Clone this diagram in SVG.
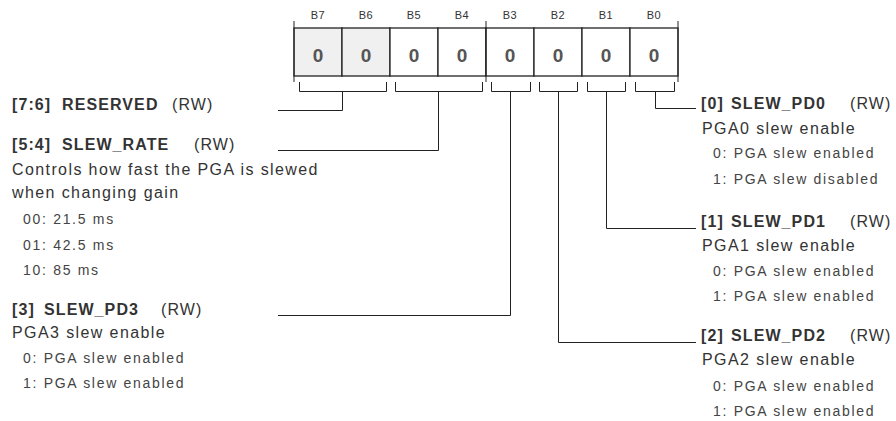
<svg xmlns="http://www.w3.org/2000/svg" width="896" height="421" viewBox="0 0 896 421">
<style>
  text { font-family: "Liberation Sans", Arial, sans-serif; fill: #333; }
  .bl { font-size: 11px; letter-spacing: 0.6px; text-anchor: middle; fill: #333; }
  .val { font-size: 19px; font-weight: bold; text-anchor: middle; fill: #555; }
  .t { font-size: 16px; letter-spacing: 1.1px; }
  .b { font-weight: bold; }
  .d { font-size: 16px; letter-spacing: 1.4px; }
  .s { font-size: 14px; letter-spacing: 1.7px; fill: #444; }
  .ln { fill: none; stroke: #222; stroke-width: 1; }
  .cell { stroke: #222; stroke-width: 1.3; }
</style>
<g id="register">
  <rect class="cell" x="294" y="28" width="48" height="48" fill="#f0f0f0"/>
  <rect class="cell" x="342" y="28" width="48" height="48" fill="#f0f0f0"/>
  <rect class="cell" x="390" y="28" width="48" height="48" fill="#fff"/>
  <rect class="cell" x="438" y="28" width="48" height="48" fill="#fff"/>
  <rect class="cell" x="486" y="28" width="48" height="48" fill="#fff"/>
  <rect class="cell" x="534" y="28" width="48" height="48" fill="#fff"/>
  <rect class="cell" x="582" y="28" width="48" height="48" fill="#fff"/>
  <rect class="cell" x="630" y="28" width="48" height="48" fill="#fff"/>
  <path class="ln" d="M294 21V82M486 21V82M678 21V82"/>
  <text class="bl" x="318" y="19">B7</text>
  <text class="bl" x="366" y="19">B6</text>
  <text class="bl" x="414" y="19">B5</text>
  <text class="bl" x="462" y="19">B4</text>
  <text class="bl" x="510" y="19">B3</text>
  <text class="bl" x="558" y="19">B2</text>
  <text class="bl" x="606" y="19">B1</text>
  <text class="bl" x="654" y="19">B0</text>
  <text class="val" x="318" y="62">0</text>
  <text class="val" x="366" y="62">0</text>
  <text class="val" x="414" y="62">0</text>
  <text class="val" x="462" y="62">0</text>
  <text class="val" x="510" y="62">0</text>
  <text class="val" x="558" y="62">0</text>
  <text class="val" x="606" y="62">0</text>
  <text class="val" x="654" y="62">0</text>
  <path class="ln" d="M299.5 82V91.5H386.5V82M395.5 82V91.5H482.5V82M491.5 82V91.5H530.5V82M539.5 82V91.5H577.5V82M587.5 82V91.5H625.5V82M635.5 82V91.5H674.5V82"/>
</g>
<g id="connectors">
  <path class="ln" d="M342.5 91.5V110.5H278"/>
  <path class="ln" d="M438.5 91.5V150.5H278"/>
  <path class="ln" d="M510.5 91.5V315.5H278"/>
  <path class="ln" d="M655.5 91.5V108.5H696"/>
  <path class="ln" d="M606.5 91.5V228.5H696"/>
  <path class="ln" d="M558.5 91.5V342.5H696"/>
</g>
<g id="reserved">
  <text class="t" y="110"><tspan class="b" x="12">[7:6]</tspan><tspan class="b" x="62">RESERVED</tspan><tspan x="172">(RW)</tspan></text>
</g>
<g id="slew_rate">
  <text class="t" y="150"><tspan class="b" x="12">[5:4]</tspan><tspan class="b" x="62">SLEW_RATE</tspan><tspan x="194">(RW)</tspan></text>
  <text class="d" x="12" y="175">Controls how fast the PGA is slewed</text>
  <text class="d" x="12" y="198">when changing gain</text>
  <text class="s" x="23" y="224">00: 21.5 ms</text>
  <text class="s" x="23" y="250">01: 42.5 ms</text>
  <text class="s" x="23" y="275">10: 85 ms</text>
</g>
<g id="slew_pd3">
  <text class="t" y="315"><tspan class="b" x="12">[3]</tspan><tspan class="b" x="44">SLEW_PD3</tspan><tspan x="161">(RW)</tspan></text>
  <text class="d" x="12" y="338">PGA3 slew enable</text>
  <text class="s" x="23" y="363">0: PGA slew enabled</text>
  <text class="s" x="23" y="388">1: PGA slew enabled</text>
</g>
<g id="slew_pd0">
  <text class="t" y="109"><tspan class="b" x="701">[0]</tspan><tspan class="b" x="731">SLEW_PD0</tspan><tspan x="850">(RW)</tspan></text>
  <text class="d" x="702" y="134">PGA0 slew enable</text>
  <text class="s" x="713" y="158">0: PGA slew enabled</text>
  <text class="s" x="713" y="184">1: PGA slew disabled</text>
</g>
<g id="slew_pd1">
  <text class="t" y="227"><tspan class="b" x="701">[1]</tspan><tspan class="b" x="731">SLEW_PD1</tspan><tspan x="850">(RW)</tspan></text>
  <text class="d" x="702" y="251">PGA1 slew enable</text>
  <text class="s" x="713" y="276">0: PGA slew enabled</text>
  <text class="s" x="713" y="301">1: PGA slew enabled</text>
</g>
<g id="slew_pd2">
  <text class="t" y="341"><tspan class="b" x="701">[2]</tspan><tspan class="b" x="731">SLEW_PD2</tspan><tspan x="850">(RW)</tspan></text>
  <text class="d" x="702" y="365">PGA2 slew enable</text>
  <text class="s" x="713" y="391">0: PGA slew enabled</text>
  <text class="s" x="713" y="416">1: PGA slew enabled</text>
</g>
</svg>
